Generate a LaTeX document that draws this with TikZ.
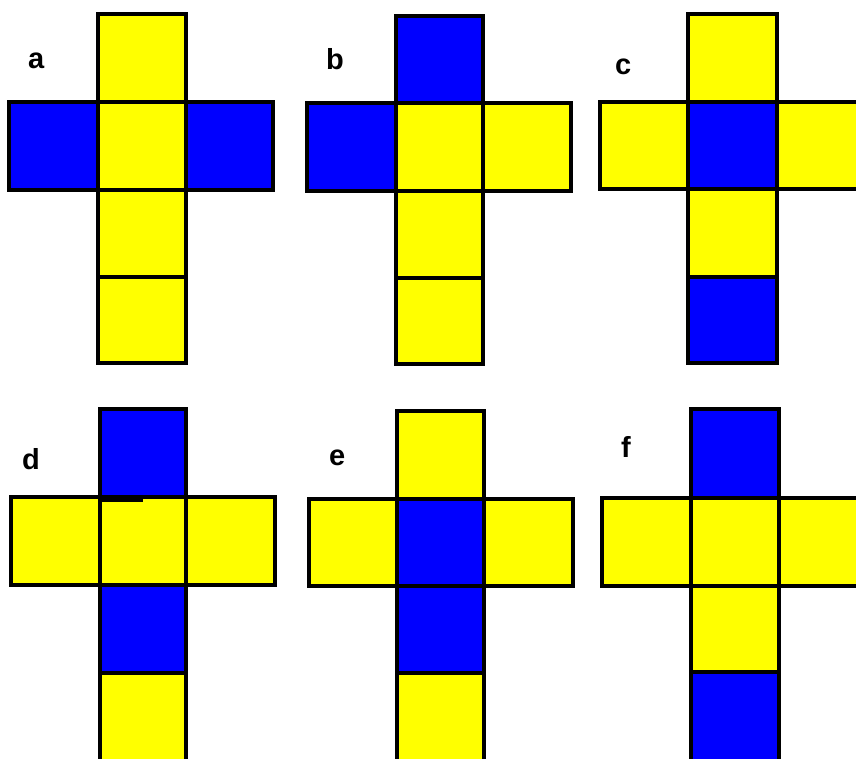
\documentclass[tikz,border=0pt]{standalone}
\usepackage{fontspec}
\setmainfont{Liberation Sans}
\definecolor{cy}{RGB}{255,255,0}
\definecolor{cb}{RGB}{0,0,255}
\tikzset{
  sq/.style={draw=black, line width=3.5pt, line join=miter},
  lbl/.style={anchor=base west, inner sep=0pt, font=\fontsize{29}{30}\selectfont\bfseries},
}
% \netsq{x1}{y1}{x2}{y2}{colour}
\newcommand{\netsq}[5]{\draw[sq, fill=#5] (#1,#2) rectangle (#3,#4);}
\begin{document}
\begin{tikzpicture}[x=1pt,y=-1pt]
\useasboundingbox (0,0) rectangle (856,758);
\fill[white] (0,0) rectangle (856,758);
\begin{scope}
\clip (0,0) rectangle (856,758);
% net a
\netsq{98}{14}{186}{102}{cy}
\netsq{9}{102}{98}{190}{cb}
\netsq{98}{102}{186}{190}{cy}
\netsq{186}{102}{273}{190}{cb}
\netsq{98}{190}{186}{277}{cy}
\netsq{98}{277}{186}{363}{cy}
% net b
\netsq{396}{16}{483}{103}{cb}
\netsq{307}{103}{396}{191}{cb}
\netsq{396}{103}{483}{191}{cy}
\netsq{483}{103}{571}{191}{cy}
\netsq{396}{191}{483}{278}{cy}
\netsq{396}{278}{483}{364}{cy}
% net c
\netsq{688}{14}{777}{102}{cy}
\netsq{600}{102}{688}{189}{cy}
\netsq{688}{102}{777}{189}{cb}
\netsq{777}{102}{866}{189}{cy}
\netsq{688}{189}{777}{277}{cy}
\netsq{688}{277}{777}{363}{cb}
% net d
\netsq{100}{409}{186}{497}{cb}
\netsq{11}{497}{100}{585}{cy}
\netsq{100}{497}{186}{585}{cy}
\netsq{186}{497}{275}{585}{cy}
\netsq{100}{585}{186}{673}{cb}
\netsq{100}{673}{186}{765}{cy}
\draw[line width=3pt] (100,500) -- (143,500);
% net e
\netsq{397}{411}{484}{499}{cy}
\netsq{309}{499}{397}{586}{cy}
\netsq{397}{499}{484}{586}{cb}
\netsq{484}{499}{573}{586}{cy}
\netsq{397}{586}{484}{673}{cb}
\netsq{397}{673}{484}{765}{cy}
% net f
\netsq{691}{409}{779}{498}{cb}
\netsq{602}{498}{691}{586}{cy}
\netsq{691}{498}{779}{586}{cy}
\netsq{779}{498}{868}{586}{cy}
\netsq{691}{586}{779}{672}{cy}
\netsq{691}{672}{779}{765}{cb}
\end{scope}
\node[lbl] (la) at (28,68) {a};
\node[lbl] (lb) at (326,69) {b};
\node[lbl] (lc) at (615,74) {c};
\node[lbl] (ld) at (22,469) {d};
\node[lbl] (le) at (329,465) {e};
\node[lbl] (lf) at (621,457) {f};
\end{tikzpicture}
\end{document}
